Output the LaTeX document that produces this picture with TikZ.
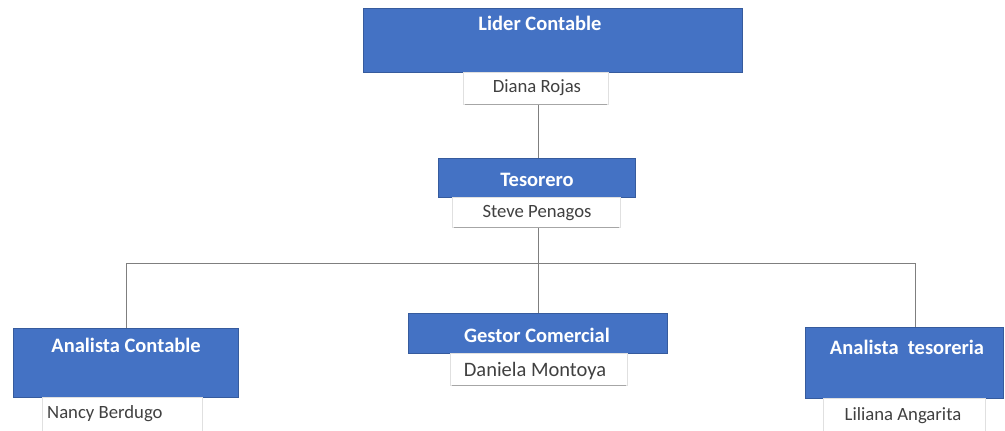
\documentclass[tikz,border=0pt]{standalone}
\usepackage{fontspec}
\setmainfont{Carlito}
\definecolor{roleblue}{HTML}{4472C4}
\definecolor{linegray}{HTML}{7F7F7F}
\definecolor{namegray}{HTML}{404040}
\begin{document}
\begin{tikzpicture}[x=1pt,y=-1pt,
  rolebox/.style={fill=roleblue, draw=roleblue!80!black, line width=0.4pt},
  namebox/.style={fill=white, draw=black!12, line width=0.5pt},
  shadowline/.style={draw=black!35, line width=1.2pt},
  roletext/.style={text=white, font=\bfseries\fontsize{20.5}{22}\selectfont, inner sep=0pt},
  nametext/.style={text=namegray, font=\fontsize{18.7}{20}\selectfont, inner sep=0pt},
  link/.style={draw=linegray, line width=0.8pt}]
\useasboundingbox (0,0) rectangle (1005,431);
\fill[white] (0,0) rectangle (1005,431);

% connectors (drawn first, boxes cover their ends)
\coordinate (hub) at (538,263);
\coordinate (hl) at (126,263);
\coordinate (hr) at (915,263);
\draw[link] (538,104) -- (538,158);
\draw[link] (538,227) -- (hub);
\draw[link] (hl) -- (hr);
\draw[link] (hl) -- (126,328);
\draw[link] (hub) -- (538,313);
\draw[link] (hr) -- (915,327);

% Lider Contable
\path[rolebox] (363,8) rectangle (742,72);
\node[roletext] (lider) at (540,23) {Lider Contable};
\path[namebox] (463,72) rectangle (608,104);
\draw[shadowline] (465,104.5) -- (607,104.5);
\node[nametext] (diana) at (537,88) {Diana Rojas};

% Tesorero
\path[rolebox] (438,158) rectangle (635,197);
\node[roletext] (tes) at (537,180) {Tesorero};
\path[namebox] (452,197) rectangle (620,227);
\draw[shadowline] (454,227.5) -- (619,227.5);
\node[nametext] (steve) at (537,213) {Steve Penagos};

% Analista Contable
\path[rolebox] (13,328) rectangle (238,397);
\node[roletext] (ac) at (126,345) {Analista Contable};
\path[namebox] (42,397) rectangle (202,431);
\node[nametext, anchor=west] (nancy) at (47,414) {Nancy Berdugo};

% Gestor Comercial
\path[rolebox] (408,313) rectangle (667,353);
\node[roletext] (gc) at (537,335) {Gestor Comercial};
\path[namebox] (450,353) rectangle (627,385);
\draw[shadowline] (452,385.5) -- (626,385.5);
\node[nametext, font=\fontsize{20.5}{22}\selectfont] (daniela) at (535,371) {Daniela Montoya};

% Analista tesoreria
\path[rolebox] (805,327) rectangle (1003,398);
\node[roletext] (at) at (907,347) {Analista\ \ tesoreria};
\path[namebox] (823,398) rectangle (985,431);
\node[nametext] (liliana) at (903,416) {Liliana Angarita};
\end{tikzpicture}
\end{document}
